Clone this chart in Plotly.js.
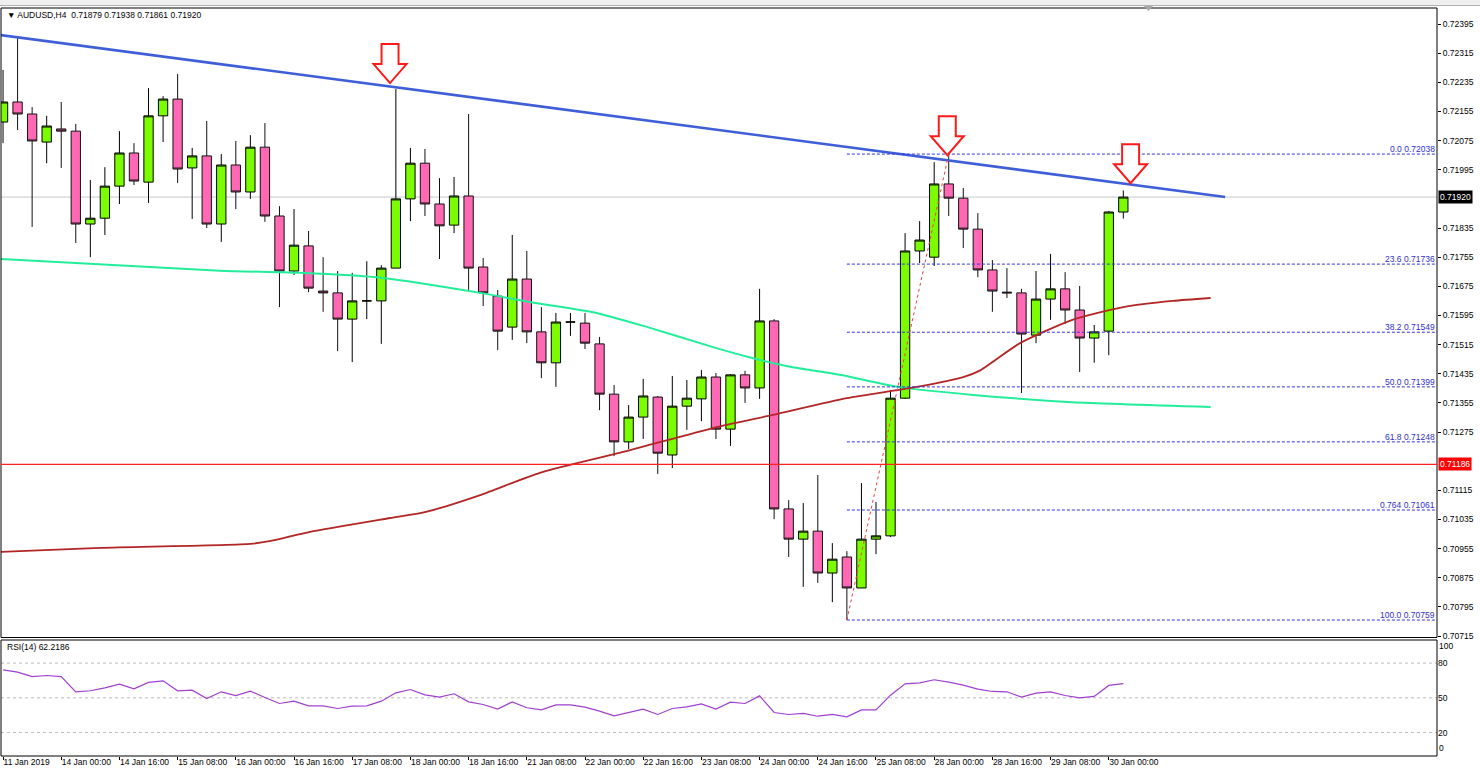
<!DOCTYPE html>
<html><head><meta charset="utf-8">
<script src="https://cdn.plot.ly/plotly-3.0.1.min.js"></script>
<style>html,body{margin:0;padding:0;background:#fff;overflow:hidden}#chart{width:1480px;height:772px}</style>
</head><body><div id="chart"></div>
<script>
const symbol = 'AUDUSD,H4';
const open = [0.72126,0.72181,0.72148,0.72071,0.72107,0.72101,0.71846,0.71862,0.71950,0.72041,
0.71961,0.72143,0.72189,0.72000,0.72033,0.71846,0.72008,0.71934,0.72057,0.71868,
0.71717,0.71786,0.71662,0.71657,0.71585,0.71635,0.71635,0.71725,0.71915,0.72013,
0.71901,0.71843,0.71923,0.71728,0.71648,0.71563,0.71695,0.71550,0.71465,0.71577,
0.71574,0.71517,0.71379,0.71248,0.71316,0.71371,0.71212,0.71346,0.71366,0.71426,
0.71283,0.71432,0.71396,0.71580,0.71064,0.70981,0.71003,0.70888,0.70932,0.70847,
0.70981,0.70990,0.71368,0.71772,0.71755,0.71956,0.71917,0.71832,0.71720,0.71659,
0.71657,0.71541,0.71640,0.71668,0.71610,0.71533,0.71552,0.71879];
const high = [0.72269,0.72357,0.72167,0.72143,0.72181,0.72121,0.71967,0.72002,0.72101,0.72068,
0.72219,0.72197,0.72258,0.72055,0.72129,0.72038,0.72074,0.72090,0.72123,0.71895,
0.71887,0.71827,0.71755,0.71717,0.71712,0.71744,0.71733,0.72217,0.72055,0.72052,
0.71972,0.71975,0.72148,0.71753,0.71665,0.71816,0.71772,0.71618,0.71602,0.71602,
0.71602,0.71536,0.71404,0.71349,0.71421,0.71374,0.71429,0.71418,0.71445,0.71437,
0.71434,0.71443,0.71668,0.71585,0.71088,0.71080,0.71157,0.70970,0.70948,0.71135,
0.71083,0.71390,0.71821,0.71854,0.72016,0.72038,0.71945,0.71876,0.71747,0.71725,
0.71668,0.71717,0.71764,0.71714,0.71676,0.71569,0.71882,0.71938];
const low = [0.72068,0.72104,0.71838,0.72013,0.72000,0.71794,0.71755,0.71816,0.71901,0.71953,
0.71904,0.72071,0.71959,0.71860,0.71835,0.71797,0.71887,0.71915,0.71852,0.71618,
0.71706,0.71659,0.71605,0.71497,0.71467,0.71585,0.71517,0.71725,0.71854,0.71868,
0.71750,0.71821,0.71665,0.71621,0.71500,0.71528,0.71519,0.71423,0.71399,0.71539,
0.71503,0.71335,0.71209,0.71228,0.71256,0.71160,0.71176,0.71281,0.71305,0.71256,
0.71237,0.71355,0.71366,0.71036,0.70932,0.70850,0.70861,0.70808,0.70759,0.70847,
0.70940,0.70987,0.71366,0.71739,0.71731,0.71868,0.71780,0.71700,0.71605,0.71643,
0.71382,0.71519,0.71583,0.71572,0.71440,0.71465,0.71486,0.71861];
const close = [0.72181,0.72148,0.72074,0.72115,0.72101,0.71846,0.71862,0.71950,0.72041,0.71964,
0.72143,0.72189,0.71997,0.72033,0.71846,0.72008,0.71934,0.72057,0.71868,0.71717,
0.71788,0.71670,0.71657,0.71585,0.71635,0.71635,0.71725,0.71915,0.72013,0.71901,
0.71841,0.71923,0.71725,0.71657,0.71552,0.71695,0.71550,0.71465,0.71577,0.71577,
0.71519,0.71379,0.71248,0.71316,0.71374,0.71217,0.71346,0.71368,0.71426,0.71283,
0.71432,0.71396,0.71580,0.71064,0.70981,0.71003,0.70888,0.70926,0.70847,0.70981,
0.70990,0.71368,0.71772,0.71802,0.71956,0.71917,0.71832,0.71720,0.71662,0.71657,
0.71544,0.71640,0.71668,0.71610,0.71533,0.71550,0.71879,0.71920];
const rsi = [74.2,72.2,68.4,69.3,68.4,55.2,56.1,58.6,61.8,57.8,
63.3,64.7,56.1,56.6,49.4,55.2,52.0,55.8,50.3,45.1,
47.1,43.1,43.1,40.8,42.8,43.1,47.1,54.3,57.2,52.6,
50.6,53.5,46.5,44.2,40.2,46.5,41.4,39.6,43.9,43.9,
41.9,38.5,34.4,37.3,40.2,35.6,40.8,42.2,44.8,40.2,
46.3,45.1,51.7,37.3,35.6,36.5,34.1,35.6,33.6,39.6,
39.6,52.3,62.1,63.0,65.6,63.5,61.0,57.5,55.5,55.2,
50.6,54.0,55.2,52.0,50.0,51.2,60.7,62.2186];
const rsiLabel = 'RSI(14) 62.2186';
const rsiLevels = [20, 50, 80];
const tickBars = [0,4,8,12,16,20,24,28,32,36,40,44,48,52,56,60,64,68,72,76];
const tickLabels = ['11 Jan 2019','14 Jan 00:00','14 Jan 16:00','15 Jan 08:00','16 Jan 00:00','16 Jan 16:00','17 Jan 08:00','18 Jan 00:00','18 Jan 16:00','21 Jan 08:00','22 Jan 00:00','22 Jan 16:00','23 Jan 08:00','24 Jan 00:00','24 Jan 16:00','25 Jan 08:00','28 Jan 00:00','28 Jan 16:00','29 Jan 08:00','30 Jan 00:00'];
const priceTicks = [0.72395,0.72315,0.72235,0.72155,0.72075,0.71995,0.71835,0.71755,0.71675,0.71595,0.71515,0.71435,0.71355,0.71275,0.71115,0.71035,0.70955,0.70875,0.70795,0.70715];
// moving averages (read at knots along the drawn lines)
const maGreenBars = [-0.2,14.9,20.4,26.1,32.8,36.2,40.8,44.3,48.8,51.5,54.1,57.5,61.5,66.7,73.5,83.0];
const maGreenVals = [0.71750,0.71718,0.71712,0.71698,0.71657,0.71632,0.71602,0.71563,0.71508,0.71478,0.71454,0.71432,0.71399,0.71377,0.71357,0.71344];
const maRedBars = [-0.2,6.7,17.0,18.4,21.1,26.6,29.0,32.8,36.9,42.9,48.8,52.9,58.0,62.8,66.0,67.1,69.9,73.5,77.0,80.4,83.0];
const maRedVals = [0.70946,0.70957,0.70968,0.70976,0.71001,0.71039,0.71055,0.71102,0.71163,0.71223,0.71286,0.71322,0.71368,0.71399,0.71426,0.71443,0.71519,0.71583,0.71618,0.71635,0.71643];
const trendBars = [-0.2, 84.0];
const trendVals = [0.72365, 0.71920];
const fibNames = ['0.0','23.6','38.2','50.0','61.8','0.764','100.0'];
const fibPrices = [0.72038,0.71736,0.71549,0.71399,0.71248,0.71061,0.70759];
const fibLowBar = 58, fibHighBar = 65;
const supportLevel = 0.71186;
const arrowBars = [26.6, 64.9, 77.5];
const arrowTips = [0.72233, 0.72035, 0.71958];

const FONT = '"Liberation Sans", Arial, sans-serif';
const W = 1480, H = 772, ML = 1, MR = 43, MT = 8, MB = 16;
const PW = W - ML - MR, PH = H - MT - MB;
const xr = [-0.14, 98.56];
const yr = [0.70711, 0.72439];
const mainDom = [0.15842, 1];
const rsiDom = [0, 0.15508];
const bars = open.map((_, i) => i);
const last = open.length - 1;
const current = close[last];

const traces = [
  {type: 'candlestick', x: bars, open, high, low, close, xaxis: 'x', yaxis: 'y',
   increasing: {fillcolor: '#7CFC00', line: {color: '#000000', width: 1}},
   decreasing: {fillcolor: '#FF69B4', line: {color: '#111111', width: 1}},
   whiskerwidth: 0, hoverinfo: 'skip', showlegend: false},
  {type: 'scatter', mode: 'lines', x: maGreenBars, y: maGreenVals, xaxis: 'x', yaxis: 'y',
   line: {color: '#22EE99', width: 2, shape: 'spline', smoothing: 0.6}, hoverinfo: 'skip', showlegend: false},
  {type: 'scatter', mode: 'lines', x: maRedBars, y: maRedVals, xaxis: 'x', yaxis: 'y',
   line: {color: '#B22626', width: 1.8, shape: 'spline', smoothing: 0.6}, hoverinfo: 'skip', showlegend: false},
  {type: 'scatter', mode: 'lines', x: trendBars, y: trendVals, xaxis: 'x', yaxis: 'y',
   line: {color: '#3F5FD8', width: 2.6}, hoverinfo: 'skip', showlegend: false},
  {type: 'scatter', mode: 'lines', x: bars, y: rsi, xaxis: 'x', yaxis: 'y2',
   line: {color: '#A040D0', width: 1.2}, hoverinfo: 'skip', showlegend: false}
];

const shapes = [];
const annotations = [];
const py = p => (H - MB - p) / PH;
const px = p => (p - ML) / PW;
// top strip
shapes.push({type: 'rect', xref: 'paper', yref: 'paper', x0: px(-2), x1: px(W + 2), y0: py(5), y1: py(-1), fillcolor: '#F0F0F0', line: {width: 0}, layer: 'below'});
shapes.push({type: 'line', xref: 'paper', yref: 'paper', x0: px(-2), x1: px(W + 2), y0: py(5.5), y1: py(5.5), line: {color: '#B0B0B0', width: 1}});
// frames
shapes.push({type: 'rect', xref: 'paper', yref: 'y domain', x0: 0, x1: 1, y0: 0, y1: 1, line: {color: '#000', width: 1}});
shapes.push({type: 'rect', xref: 'paper', yref: 'y2 domain', x0: 0, x1: 1, y0: 0, y1: 1, line: {color: '#000', width: 1}});
// current price grey line
shapes.push({type: 'line', xref: 'paper', yref: 'y', x0: 0, x1: 1, y0: current, y1: current, line: {color: '#C8C8C8', width: 1}, layer: 'below'});
// support line
shapes.push({type: 'line', xref: 'paper', yref: 'y', x0: 0, x1: 1, y0: supportLevel, y1: supportLevel, line: {color: '#FF2020', width: 1.2}});
// fibonacci levels
fibPrices.forEach((p, i) => {
  shapes.push({type: 'line', xref: 'x', yref: 'y', x0: fibLowBar, x1: xr[1], y0: p, y1: p, line: {color: '#3535D8', width: 1, dash: '3px,2px'}});
  annotations.push({xref: 'paper', yref: 'y', x: 1, y: p, xanchor: 'right', yanchor: 'bottom', xshift: -1, yshift: -1,
    text: fibNames[i] + ' ' + p.toFixed(5), showarrow: false, font: {family: FONT, size: 8.5, color: '#2F2FCF'}, borderpad: 0});
});
// fib trend (dotted red)
shapes.push({type: 'line', xref: 'x', yref: 'y', x0: fibLowBar, x1: fibHighBar, y0: fibPrices[6], y1: fibPrices[0], line: {color: '#F04040', width: 1, dash: 'dot'}});
// RSI levels
rsiLevels.forEach(v => shapes.push({type: 'line', xref: 'paper', yref: 'y2', x0: 0, x1: 1, y0: v, y1: v, line: {color: '#BDBDBD', width: 1, dash: '3px,3px'}, layer: 'below'}));
// arrows
const barPerPx = (xr[1] - xr[0]) / PW;
const pricePerPx = (yr[1] - yr[0]) / (PH * (mainDom[1] - mainDom[0]));
arrowBars.forEach((b, i) => {
  const t = arrowTips[i];
  const pts = [[0,0],[-16.5,19],[-8.5,19],[-8.5,39],[8.5,39],[8.5,19],[16.5,19]];
  const path = 'M' + pts.map(([dx, dy]) => (b + dx * barPerPx) + ',' + (t + dy * pricePerPx)).join(' L') + ' Z';
  shapes.push({type: 'path', xref: 'x', yref: 'y', path, fillcolor: '#FFFFFF', line: {color: '#FF1A1A', width: 2}});
});
// chart shift marker
shapes.push({type: 'path', xref: 'paper', yref: 'paper', path: `M${px(1144)},${py(6)} L${px(1153)},${py(6)} L${px(1148.5)},${py(11)} Z`, fillcolor: '#A8A8A8', line: {width: 0}});

// header
annotations.push({xref: 'paper', yref: 'paper', x: 0, y: 1, xanchor: 'left', yanchor: 'top', xshift: 4, yshift: 0,
  text: '▼ ' + symbol + '  ' + [open[last], high[last], low[last], close[last]].map(v => v.toFixed(5)).join(' '),
  showarrow: false, font: {family: FONT, size: 8.5, color: '#000'}, borderpad: 1});
annotations.push({xref: 'paper', yref: 'y2 domain', x: 0, y: 1, xanchor: 'left', yanchor: 'top', xshift: 4, yshift: 0,
  text: rsiLabel, showarrow: false, font: {family: FONT, size: 8.5, color: '#000'}, borderpad: 1});
// price labels
annotations.push({xref: 'paper', yref: 'y', x: 1, y: current, xanchor: 'left', yanchor: 'middle', xshift: 1,
  text: current.toFixed(5), showarrow: false, bgcolor: '#000', font: {family: FONT, size: 8.5, color: '#fff'}, borderpad: 1});
annotations.push({xref: 'paper', yref: 'y', x: 1, y: supportLevel, xanchor: 'left', yanchor: 'middle', xshift: 1,
  text: supportLevel.toFixed(5), showarrow: false, bgcolor: '#FF0000', font: {family: FONT, size: 8.5, color: '#fff'}, borderpad: 1});
// rsi 100 / 0 labels
annotations.push({xref: 'paper', yref: 'y2 domain', x: 1, y: 1, xanchor: 'left', yanchor: 'top', xshift: 1, text: '100', showarrow: false, font: {family: FONT, size: 8.5, color: '#000'}, borderpad: 0});
annotations.push({xref: 'paper', yref: 'y2 domain', x: 1, y: 0, xanchor: 'left', yanchor: 'bottom', xshift: 1, yshift: 2, text: '0', showarrow: false, font: {family: FONT, size: 8.5, color: '#000'}, borderpad: 0});

const layout = {
  width: W, height: H, margin: {l: ML, r: MR, t: MT, b: MB, pad: 0},
  paper_bgcolor: '#FFFFFF', plot_bgcolor: '#FFFFFF', showlegend: false,
  boxgap: 0.36, boxgroupgap: 0,
  font: {family: FONT, size: 8.5, color: '#000'},
  xaxis: {range: xr, anchor: 'y2', domain: [0, 1], tickmode: 'array', tickvals: tickBars, ticktext: tickLabels,
    ticks: 'outside', ticklen: 3, tickcolor: '#000', tickwidth: 1, ticklabelposition: 'outside right', tickangle: 0,
    ticklabelstandoff: -2,
    tickfont: {family: FONT, size: 8.5, color: '#000'}, showgrid: false, zeroline: false, showline: false,
    rangeslider: {visible: false}, fixedrange: true},
  yaxis: {domain: mainDom, range: yr, side: 'right', anchor: 'x', tickmode: 'array', tickvals: priceTicks,
    ticktext: priceTicks.map(v => v.toFixed(5)), ticks: 'outside', ticklen: 3, tickcolor: '#000',
    tickfont: {family: FONT, size: 8.5, color: '#000'}, showgrid: false, zeroline: false, showline: false, fixedrange: true},
  yaxis2: {domain: rsiDom, range: [-0.3, 100], side: 'right', anchor: 'x', tickmode: 'array', tickvals: rsiLevels,
    ticks: '', tickfont: {family: FONT, size: 8.5, color: '#000'}, showgrid: false, zeroline: false, showline: false, fixedrange: true},
  shapes, annotations
};
Plotly.newPlot('chart', traces, layout, {displayModeBar: false, staticPlot: true});
</script>
</body></html>
